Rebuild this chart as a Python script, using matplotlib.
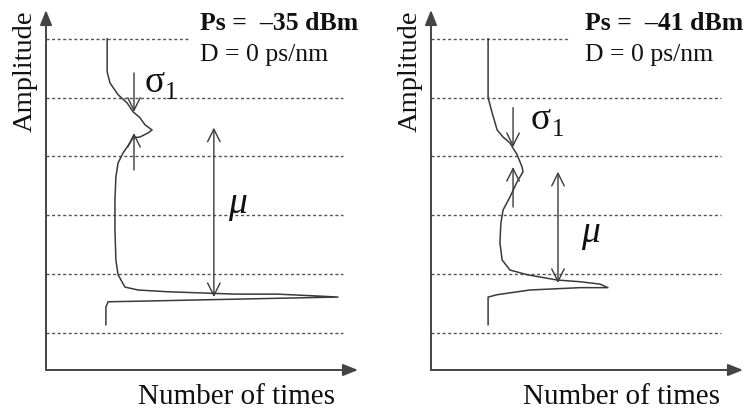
import matplotlib
matplotlib.use("Agg")
import matplotlib.pyplot as plt

plt.rcParams['font.family'] = ['Liberation Serif', 'DejaVu Serif']

# amplitude histograms, Ps = -35 dBm (counts vs. amplitude level)
count_35 = [19.6, 19.6, 20.5, 23.1, 26.0, 27.9, 30.1, 31.7, 34.0, 32.7, 30.1, 27.9,
            26.9, 24.7, 23.1, 22.4, 22.1, 22.1, 22.4, 23.1, 25.3, 29.5, 39.1, 60.6,
            74.0, 86.2, 93.6, 66.0, 47.8, 30.1, 19.9, 19.2, 19.2]
amp_35 = [5.00, 4.44, 4.25, 4.05, 3.91, 3.76, 3.66, 3.54, 3.45, 3.40, 3.33, 3.32,
          3.23, 3.06, 2.89, 2.65, 2.26, 1.75, 1.24, 0.99, 0.78, 0.73, 0.70, 0.66,
          0.66, 0.63, 0.61, 0.58, 0.56, 0.54, 0.53, 0.44, 0.14]

# Ps = -41 dBm
count_41 = [18.3, 18.3, 19.6, 21.2, 23.1, 25.3, 27.6, 29.2, 29.5, 28.5, 27.6, 25.3,
            23.1, 22.4, 22.1, 22.8, 25.3, 30.8, 40.4, 47.8, 54.2, 56.7, 47.8, 31.7,
            21.2, 18.3, 18.3]
amp_41 = [5.00, 4.00, 3.74, 3.45, 3.33, 3.23, 3.03, 2.82, 2.74, 2.65, 2.57, 2.31,
          2.09, 1.87, 1.53, 1.24, 1.07, 0.99, 0.90, 0.87, 0.83, 0.77, 0.77, 0.73,
          0.65, 0.61, 0.14]

levels = [0, 1, 2, 3, 4, 5]

panels = [
    dict(count=count_35, amp=amp_35, power="Ps =  \u201335 dBm",
         sigma_x=28.2, sigma_down=(4.42, 3.76), sigma_up=(2.77, 3.40),
         sigma_lbl=(31.5, 4.25), mu_x=53.8, mu=(3.49, 0.61), mu_lbl=(61.5, 2.20),
         top_end=45.5, grid_end=95.2, left=46),
    dict(count=count_41, amp=amp_41, power="Ps =  \u201341 dBm",
         sigma_x=26.3, sigma_down=(3.83, 3.16), sigma_up=(2.14, 2.82),
         sigma_lbl=(32.0, 3.62), mu_x=40.7, mu=(2.74, 0.85), mu_lbl=(51.0, 1.70),
         top_end=44.6, grid_end=93.0, left=431),
]

W, H = 746, 413
fig = plt.figure(figsize=(W / 100, H / 100), dpi=100)

ink = '#3a3a3a'
for p in panels:
    ax = fig.add_axes([p['left'] / W, (H - 370) / H, 312 / W, 360 / H])
    ax.set_xlim(0, 100)
    ax.set_ylim(-0.63, 5.49)
    ax.axis('off')

    # dashed reference levels
    for lv in levels:
        end = p['top_end'] if lv == levels[-1] else p['grid_end']
        ax.plot([0, end], [lv, lv], color='#555555', lw=1.0,
                dashes=(2.2, 1.8), clip_on=False)

    # axes with arrow heads
    axis_arr = dict(arrowstyle='-|>,head_length=0.9,head_width=0.36',
                    color='#444444', lw=1.4, shrinkA=0, shrinkB=0)
    ax.annotate('', xy=(0, 1), xytext=(0, 0), xycoords='axes fraction',
                arrowprops=axis_arr)
    ax.annotate('', xy=(1, 0), xytext=(0, 0), xycoords='axes fraction',
                arrowprops=axis_arr)

    ax.plot(p['count'], p['amp'], color=ink, lw=1.1)

    arr = dict(arrowstyle='->,head_length=0.9,head_width=0.45', color=ink, lw=1.0,
               shrinkA=0, shrinkB=0)
    ax.annotate('', xy=(p['sigma_x'], p['sigma_down'][1]),
                xytext=(p['sigma_x'], p['sigma_down'][0]), arrowprops=arr)
    ax.annotate('', xy=(p['sigma_x'], p['sigma_up'][1]),
                xytext=(p['sigma_x'], p['sigma_up'][0]), arrowprops=arr)
    ax.annotate('', xy=(p['mu_x'], p['mu'][1]), xytext=(p['mu_x'], p['mu'][0]),
                arrowprops=dict(arr, arrowstyle='<->,head_length=0.9,head_width=0.45'))

    ax.text(p['sigma_lbl'][0], p['sigma_lbl'][1], '\u03c3', fontsize=27,
            ha='left', va='center', color='#111111')
    ax.text(p['sigma_lbl'][0] + 6.7, p['sigma_lbl'][1] - 0.17, '1', fontsize=18,
            ha='left', va='center', color='#111111')
    ax.text(p['mu_lbl'][0], p['mu_lbl'][1], '\u03bc', fontsize=27, style='italic',
            ha='center', va='center', color='#111111')

    ax.text(0.495, 0.962, p['power'], transform=ax.transAxes, fontsize=18.5,
            fontweight='bold', ha='left', va='center', color='#111111')
    ax.text(0.495, 0.875, 'D = 0 ps/nm', transform=ax.transAxes, fontsize=18.5,
            ha='left', va='center', color='#111111')

    ax.text(-0.068, 0.83, 'Amplitude', transform=ax.transAxes, fontsize=20.5,
            rotation=90, ha='center', va='center', color='#111111')
    ax.text(0.925, -0.075, 'Number of times', transform=ax.transAxes, fontsize=21,
            ha='right', va='center', color='#111111')

fig.savefig('out.png', dpi=100)
